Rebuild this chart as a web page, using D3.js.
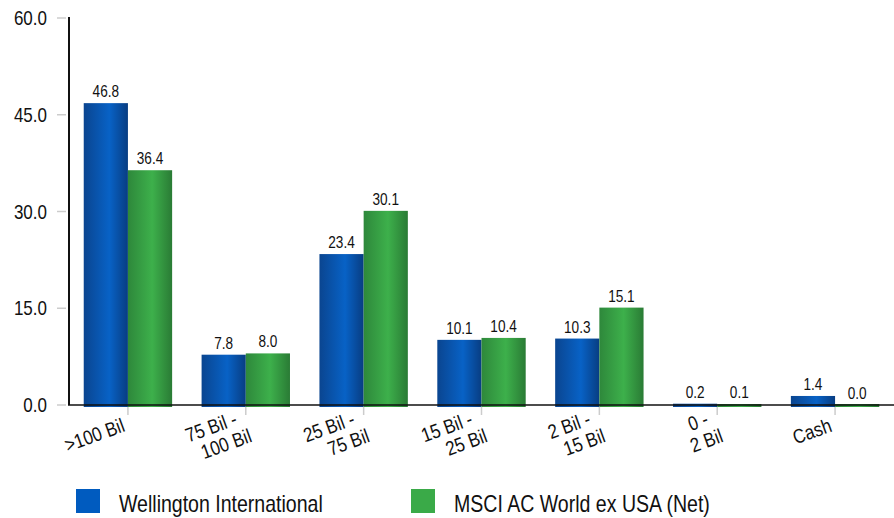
<!DOCTYPE html>
<html>
<head>
<meta charset="utf-8">
<script src="https://cdn.jsdelivr.net/npm/d3@7"></script>
<style>
  body { margin: 0; background: #fff; }
  text { font-family: "Liberation Sans", Arial, sans-serif; fill: #111; }
</style>
</head>
<body>
<svg id="chart"></svg>
<script>
// data
var categories = [">100 Bil", "75 Bil - 100 Bil", "25 Bil - 75 Bil", "15 Bil - 25 Bil", "2 Bil - 15 Bil", "0 - 2 Bil", "Cash"];
var categoryLines = [[">100 Bil"], ["75 Bil -", "100 Bil"], ["25 Bil -", "75 Bil"], ["15 Bil -", "25 Bil"], ["2 Bil -", "15 Bil"], ["0 -", "2 Bil"], ["Cash"]];
var seriesNames = ["Wellington International", "MSCI AC World ex USA (Net)"];
var wellington = [46.8, 7.8, 23.4, 10.1, 10.3, 0.2, 1.4];
var msci = [36.4, 8.0, 30.1, 10.4, 15.1, 0.1, 0.0];
var yTicks = [0, 15, 30, 45, 60];

var width = 894, height = 518;
var squeeze = 0.85; // text in the original looks horizontally condensed

var svg = d3.select("#chart")
  .attr("width", width)
  .attr("height", height);

// condensed text helper
function addText(parent, x, y, str, size, anchor) {
  return parent.append("text")
    .attr("transform", "translate(" + x + "," + y + ") scale(" + squeeze + ",1)")
    .attr("text-anchor", anchor || "start")
    .style("font-size", size + "px")
    .text(str);
}

// gradients for the bars
var defs = svg.append("defs");
function addGradient(id, stops) {
  var g = defs.append("linearGradient").attr("id", id)
    .attr("x1", "0%").attr("x2", "100%").attr("y1", "0%").attr("y2", "0%");
  stops.forEach(function(s) {
    g.append("stop").attr("offset", s[0]).attr("stop-color", s[1]);
  });
}
addGradient("gBlue", [["0%", "#0a4590"], ["58%", "#0862c6"], ["100%", "#083d82"]]);
addGradient("gGreen", [["0%", "#2e883b"], ["55%", "#3db04b"], ["100%", "#2a7b35"]]);

var seriesFill = ["url(#gBlue)", "url(#gGreen)"];
var legendColor = ["#005bbf", "#3aaa48"];

// scales
var x0 = d3.scaleBand()
  .domain(categories)
  .range([69, 894])
  .padding(0);

var x1 = d3.scaleBand()
  .domain([0, 1])
  .range([x0.bandwidth() * 0.125, x0.bandwidth() * 0.875])
  .padding(0);

var y = d3.scaleLinear()
  .domain([0, 60])
  .range([405, 18]);

// y axis ticks + labels
var yAxis = svg.append("g");
yAxis.selectAll("line")
  .data(yTicks)
  .enter().append("line")
  .attr("x1", 57).attr("x2", 66)
  .attr("y1", function(d) { return y(d); })
  .attr("y2", function(d) { return y(d); })
  .attr("stroke", "#cccccc")
  .attr("stroke-width", 1.5);
yTicks.forEach(function(d) {
  addText(yAxis, 47, y(d) + 7, d.toFixed(1), 20, "end");
});

// bars
var series = [wellington, msci];
var groups = svg.append("g").selectAll("g")
  .data(categories)
  .enter().append("g")
  .attr("transform", function(d) { return "translate(" + x0(d) + ",0)"; });

groups.selectAll("rect")
  .data(function(d, i) { return series.map(function(s, k) { return {k: k, v: s[i]}; }); })
  .enter().append("rect")
  .attr("x", function(d) { return x1(d.k); })
  .attr("width", x1.bandwidth())
  .attr("y", function(d) { return Math.min(y(d.v), y(0) - 1); })
  .attr("height", function(d) { return y(0) + 2 - Math.min(y(d.v), y(0) - 1); })
  .attr("fill", function(d) { return seriesFill[d.k]; });

groups.each(function(cat, i) {
  var g = d3.select(this);
  series.forEach(function(s, k) {
    addText(g, x1(k) + x1.bandwidth() / 2, y(s[i]) - 6, s[i].toFixed(1), 16, "middle");
  });
});

// axis lines
svg.append("line")
  .attr("x1", 69).attr("x2", 69)
  .attr("y1", 17).attr("y2", y(0))
  .attr("stroke", "#111").attr("stroke-width", 2);
svg.append("line")
  .attr("x1", 68).attr("x2", 894)
  .attr("y1", y(0)).attr("y2", y(0))
  .attr("stroke", "#111").attr("stroke-width", 1.5);

// x ticks + rotated labels
var xAxis = svg.append("g");
xAxis.selectAll("line")
  .data(categories)
  .enter().append("line")
  .attr("x1", function(d) { return x0(d) + x0.bandwidth() / 2; })
  .attr("x2", function(d) { return x0(d) + x0.bandwidth() / 2; })
  .attr("y1", y(0) + 2).attr("y2", y(0) + 10)
  .attr("stroke", "#cccccc")
  .attr("stroke-width", 1.5);

var labels = xAxis.selectAll("g.lbl")
  .data(categories)
  .enter().append("g")
  .attr("class", "lbl")
  .attr("transform", function(d) {
    return "translate(" + (x0(d) + x0.bandwidth() / 2 - 2) + "," + 431 + ") rotate(-20)";
  });

labels.each(function(d, i) {
  var lines = categoryLines[i];
  var g = d3.select(this);
  lines.forEach(function(t, j) {
    var off = lines.length === 1 ? [0, 0] : (j === 0 ? [-3, -8] : [5, 13]);
    addText(g, off[0], off[1], t, 20, "end");
  });
});

// legend
var legendX = [76, 411];
var legend = svg.append("g");
seriesNames.forEach(function(name, k) {
  legend.append("rect")
    .attr("x", legendX[k]).attr("y", 489)
    .attr("width", 24).attr("height", 24)
    .attr("fill", legendColor[k]);
  addText(legend, legendX[k] + 43, 512, name, 23, "start");
});
</script>
</body>
</html>
